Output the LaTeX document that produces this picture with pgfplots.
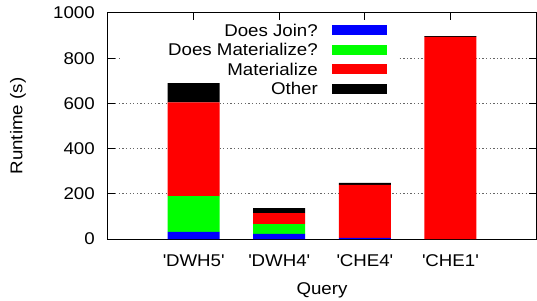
\documentclass[border=0pt]{standalone}
\usepackage{fontspec}
\setmainfont{Liberation Sans}[FakeStretch=1.1]
\usepackage{pgfplots}
\pgfplotsset{compat=1.18}
\definecolor{cjoin}{RGB}{0,0,255}
\definecolor{cdmat}{RGB}{0,255,0}
\definecolor{cmat}{RGB}{255,0,0}
\definecolor{cother}{RGB}{0,0,0}
\begin{document}
\begin{tikzpicture}[font=\fontsize{17bp}{20bp}\selectfont]
\begin{axis}[
  scale only axis,
  width=428bp, height=226bp,
  xmin=0, xmax=5, ymin=0, ymax=1000,
  xtick={1,2,3,4},
  xticklabels={\textquotesingle DWH5\textquotesingle,\textquotesingle DWH4\textquotesingle,\textquotesingle CHE4\textquotesingle,\textquotesingle CHE1\textquotesingle},
  ytick={0,200,400,600,800,1000},
  /pgf/number format/assume math mode=true,
  /pgf/number format/1000 sep={},
  tick pos=both, tick align=inside,
  major tick length=7bp,
  axis line style={line width=1bp, black},
  every tick/.style={black, line width=1bp},
  ymajorgrids,
  grid style={black!60, line width=1bp, dash pattern=on 1.3bp off 2.3bp},
  xticklabel style={anchor=base, yshift=-27bp, inner sep=0pt},
  yticklabel style={anchor=east, xshift=-13bp, inner sep=0pt},
  every axis y label/.style={at={(axis description cs:-0.2103,0.5)}, rotate=90, anchor=center},
  every axis x label/.style={at={(axis description cs:0.5,-0.2257)}, anchor=center},
  xlabel={Query},
  ylabel={Runtime (s)},
  ybar stacked,
  bar width=52bp,
  legend plot pos=right,
  legend cell align=right,
  legend style={at={(0.6776,0.8927)}, anchor=north east, draw=none, fill=white,
    inner xsep=11bp, inner ysep=-17bp, row sep=0pt, /tikz/column sep=14bp,
    nodes={inner sep=0pt, text height=15.85bp, text depth=3.65bp}},
]
\addplot[fill=cjoin, draw=none, legend image code/.code={\fill[cjoin] (0bp,-5bp) rectangle (55bp,5bp);}]
  coordinates {(1,31) (2,23) (3,5) (4,0)};
\addlegendentry{Does Join?}
\addplot[fill=cdmat, draw=none, legend image code/.code={\fill[cdmat] (0bp,-5bp) rectangle (55bp,5bp);}]
  coordinates {(1,159) (2,43) (3,0) (4,0)};
\addlegendentry{\makebox[187bp][r]{Does Materialize?}}
\addplot[fill=cmat, draw=none, legend image code/.code={\fill[cmat] (0bp,-5bp) rectangle (55bp,5bp);}]
  coordinates {(1,415) (2,49) (3,234) (4,894)};
\addlegendentry{Materialize}
\addplot[fill=cother, draw=none, legend image code/.code={\fill[cother] (0bp,-5bp) rectangle (55bp,5bp);}]
  coordinates {(1,85) (2,22) (3,9) (4,4)};
\addlegendentry{Other}
\end{axis}
\pgfresetboundingbox
\path (-108bp,-62bp) rectangle (429bp,239bp);
\end{tikzpicture}
\end{document}
